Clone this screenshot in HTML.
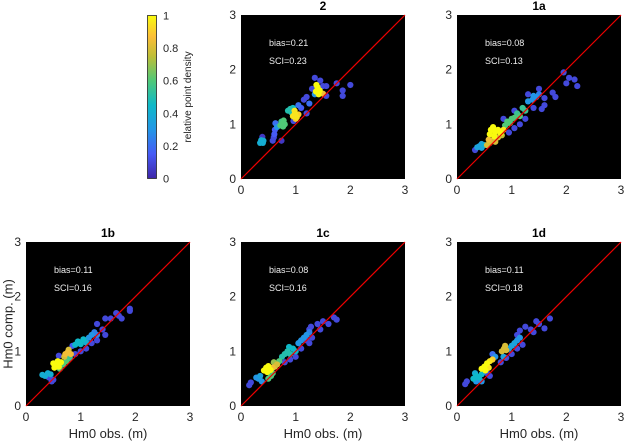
<!DOCTYPE html>
<html><head><meta charset="utf-8"><style>
body{margin:0;background:#fff;}
svg{display:block;font-family:"Liberation Sans",sans-serif;}
</style></head><body>
<svg id="fig" width="625" height="443" viewBox="0 0 625 443"></svg>
<script>
// ---- data ----
const panelTitles = ["2","1a","1b","1c","1d"];
const biasValues = ["0.21","0.08","0.11","0.08","0.11"];
const sciValues = ["0.23","0.13","0.16","0.16","0.18"];
const axisTicks = [0,1,2,3];
const colorbarTicks = [0,0.2,0.4,0.6,0.8,1];

// each point: [obs, comp, density]
const pts2 = [[0.35,0.66,0.4],[0.38,0.68,0.4],[0.41,0.7,0.4],[0.37,0.71,0.4],[0.4,0.66,0.4],[0.39,0.77,0.05],
[0.58,0.7,0.1],[0.6,0.76,0.1],[0.61,0.82,0.15],[0.62,0.9,0.15],[0.63,1.02,0.2],[0.74,0.7,0.05],[0.66,0.95,0.3],
[0.72,0.98,0.6],[0.76,1.02,0.6],[0.78,1.07,0.6],[0.74,1.05,0.55],[0.8,1.0,0.6],[0.77,0.96,0.6],
[0.86,1.25,0.5],[0.9,1.28,0.5],[0.92,1.22,0.5],[0.95,1.3,0.45],
[0.95,1.15,0.95],[0.99,1.2,0.95],[1.02,1.13,0.95],[1.05,1.18,0.9],[0.98,1.25,0.95],[1.0,1.1,0.9],
[0.96,1.06,0.1],[1.05,1.35,0.2],[1.1,1.3,0.15],[1.15,1.45,0.1],[1.2,1.2,0.1],[1.2,1.5,0.1],[1.25,1.38,0.2],
[1.3,1.65,0.1],[1.35,1.85,0.1],[1.45,1.8,0.1],[1.5,1.7,0.1],[1.56,1.7,0.1],[1.56,1.52,0.1],[1.75,1.75,0.1],
[1.86,1.62,0.1],[1.86,1.52,0.1],[2.0,1.72,0.1],[1.35,1.55,0.3],
[1.37,1.6,1],[1.4,1.68,1],[1.42,1.55,1],[1.38,1.72,1],[1.44,1.62,1],[1.5,1.56,0.85]];

const pts1a = [[0.33,0.53,0.1],[0.37,0.58,0.35],[0.41,0.6,0.35],[0.45,0.57,0.35],[0.45,0.64,0.35],[0.5,0.62,0.4],
[0.55,0.62,0.8],[0.6,0.66,0.8],[0.65,0.7,0.8],[0.7,0.68,0.8],[0.75,0.76,0.8],[0.82,0.8,0.75],[0.58,0.72,0.85],
[0.6,0.82,1],[0.62,0.9,1],[0.66,0.95,1],[0.7,0.86,1],[0.75,0.9,1],[0.8,0.84,1],[0.68,0.78,1],[0.85,0.9,0.95],
[0.88,0.98,0.6],[0.92,1.05,0.6],[0.97,1.02,0.6],[1.0,1.1,0.6],[1.05,1.12,0.6],[1.1,1.2,0.55],[1.15,1.15,0.6],[1.2,1.3,0.55],[1.25,1.25,0.55],
[1.3,1.42,0.3],[1.38,1.45,0.3],[1.45,1.5,0.3],[1.5,1.55,0.25],[1.4,1.52,0.3],
[0.95,0.85,0.1],[1.05,0.93,0.1],[1.15,1.0,0.1],[1.25,1.1,0.1],[1.4,1.3,0.1],[1.55,1.28,0.1],[1.6,1.35,0.1],
[1.3,1.55,0.1],[1.5,1.65,0.1],[1.6,1.48,0.1],[1.75,1.58,0.1],[1.8,1.5,0.1],[2.0,1.75,0.1],[2.05,1.85,0.1],
[2.15,1.82,0.1],[2.2,1.7,0.1],[1.95,1.95,0.1],[1.05,1.25,0.1],[0.85,1.1,0.1]];

const pts1b = [[0.3,0.57,0.4],[0.35,0.55,0.4],[0.4,0.6,0.4],[0.45,0.58,0.4],[0.42,0.52,0.1],[0.47,0.45,0.1],[0.5,0.48,0.1],
[0.52,0.7,1],[0.55,0.76,1],[0.58,0.82,1],[0.6,0.72,1],[0.64,0.8,1],[0.5,0.78,1],
[0.62,0.68,0.6],[0.68,0.76,0.6],[0.74,0.82,0.6],[0.8,0.88,0.55],
[0.72,0.95,0.85],[0.76,0.98,0.85],[0.82,0.95,0.85],[0.7,0.9,0.8],[0.78,1.03,0.8],
[0.6,0.92,0.1],[0.85,1.1,0.15],[0.9,1.12,0.45],[0.95,1.18,0.45],[1.0,1.13,0.45],[1.05,1.22,0.45],[1.1,1.16,0.4],
[1.15,1.25,0.3],[1.2,1.3,0.3],[1.25,1.35,0.25],[1.3,1.3,0.25],
[0.9,0.95,0.1],[1.0,1.0,0.1],[1.1,1.05,0.1],[1.2,1.15,0.1],[1.3,1.2,0.1],[1.4,1.4,0.1],[1.45,1.3,0.1],
[1.3,1.5,0.1],[1.45,1.6,0.1],[1.55,1.6,0.1],[1.65,1.7,0.1],[1.7,1.65,0.1],[1.75,1.6,0.1],[1.9,1.78,0.1],[1.9,1.74,0.1]];

const pts1c = [[0.15,0.38,0.1],[0.18,0.43,0.1],[0.28,0.52,0.3],[0.32,0.5,0.3],[0.35,0.55,0.35],[0.38,0.45,0.3],
[0.42,0.65,1],[0.46,0.7,1],[0.5,0.73,1],[0.54,0.66,1],[0.48,0.62,1],[0.58,0.7,0.85],[0.62,0.72,0.8],[0.66,0.76,0.8],
[0.5,0.5,0.6],[0.55,0.55,0.6],[0.58,0.6,0.6],[0.6,0.8,0.7],[0.7,0.82,0.6],
[0.75,0.9,0.5],[0.8,0.95,0.5],[0.85,1.0,0.5],[0.9,0.95,0.5],[0.95,1.05,0.45],[1.0,1.0,0.45],[0.88,1.08,0.45],
[1.05,1.15,0.3],[1.1,1.2,0.3],[1.15,1.25,0.3],[1.2,1.3,0.3],[1.25,1.35,0.25],
[0.8,0.8,0.1],[0.9,0.85,0.1],[1.0,0.9,0.1],[1.1,1.05,0.1],[1.2,1.2,0.1],[1.25,1.15,0.1],[1.3,1.25,0.1],
[1.25,1.4,0.1],[1.4,1.5,0.1],[1.45,1.4,0.1],[1.5,1.55,0.1],[1.6,1.5,0.1],[1.7,1.62,0.1],[1.75,1.58,0.1],[1.28,1.45,0.1]];

const pts1d = [[0.15,0.4,0.1],[0.18,0.45,0.1],[0.3,0.5,0.45],[0.35,0.55,0.45],[0.4,0.52,0.45],[0.45,0.58,0.45],[0.33,0.6,0.4],
[0.35,0.45,0.3],[0.45,0.45,0.3],
[0.45,0.68,1],[0.5,0.72,1],[0.55,0.78,1],[0.6,0.82,0.95],[0.52,0.65,1],[0.65,0.85,0.9],[0.58,0.7,0.95],
[0.7,0.9,0.3],[0.65,0.95,0.2],[0.55,0.6,0.1],[0.6,0.55,0.1],
[0.82,1.0,0.8],[0.86,1.05,0.8],[0.9,1.02,0.8],[0.88,1.1,0.8],
[0.95,1.05,0.35],[1.0,1.1,0.35],[1.05,1.15,0.35],[1.1,1.2,0.3],[1.15,1.25,0.3],[0.85,0.9,0.35],
[0.8,0.8,0.1],[0.9,0.88,0.1],[1.0,0.95,0.1],[1.1,1.05,0.1],[1.2,1.12,0.1],[1.1,1.3,0.1],
[1.15,1.38,0.1],[1.25,1.45,0.1],[1.35,1.4,0.1],[1.4,1.35,0.1],[1.5,1.5,0.1],[1.6,1.42,0.1],[1.7,1.6,0.1],[1.45,1.55,0.1]];

const panelData = [pts2, pts1a, pts1b, pts1c, pts1d];
const panelBoxes = [[241,15],[457,15],[26,242],[241,242],[457,242]];
const SIZE = 164, VMAX = 3;

const parula = [[0,[62,38,168]],[0.15,[70,90,245]],[0.3,[35,150,230]],[0.45,[14,185,200]],[0.6,[80,200,120]],[0.75,[190,190,55]],[0.87,[252,190,55]],[1,[249,251,14]]];
function cmap(v){
  for(let i=1;i<parula.length;i++){
    if(v<=parula[i][0]){const a=parula[i-1],b=parula[i];const t=(v-a[0])/(b[0]-a[0]);
      return `rgb(${a[1].map((c,k)=>Math.round(c+(b[1][k]-c)*t)).join(',')})`;}
  }
  return 'rgb(249,251,14)';
}
const NS='http://www.w3.org/2000/svg';
const svg=document.getElementById('fig');
function mk(tag,attrs,parent){const e=document.createElementNS(NS,tag);for(const k in attrs)e.setAttribute(k,attrs[k]);(parent||svg).appendChild(e);return e;}

panelData.forEach((pts,pi)=>{
  const [x0,y0]=panelBoxes[pi];
  const sx=v=>x0+v/VMAX*SIZE, sy=v=>y0+SIZE-v/VMAX*SIZE;
  const g=mk('g',{});
  
  
  const bg=mk('rect',{x:x0,y:y0,width:SIZE,height:SIZE,fill:'#000'},g);
  
  
  const t=mk('text',{x:x0+SIZE/2,y:y0-5,'text-anchor':'middle','font-size':12,'font-weight':'bold',fill:'#000'},g);
  t.textContent=panelTitles[pi];
  
  
  axisTicks.forEach(v=>{
    const tx=mk('text',{x:sx(v),y:y0+SIZE+15,'text-anchor':'middle','font-size':12,fill:'#262626'},g);
    tx.textContent=v;
    
    
    const ty=mk('text',{x:x0-5,y:sy(v)+4,'text-anchor':'end','font-size':12,fill:'#262626'},g);
    ty.textContent=v;
    
    
  });
  const sorted=pts.slice().sort((a,b)=>a[2]-b[2]);
  sorted.forEach(p=>{
    const c=mk('circle',{cx:sx(p[0]),cy:sy(p[1]),r:3.1,fill:cmap(p[2])},g);
    
    
  });
  const ln=mk('line',{x1:sx(0),y1:sy(0),x2:sx(3),y2:sy(3),stroke:'#e00',"stroke-width":1.2},g);
  
  
  const b=mk('text',{x:x0+28,y:y0+31,'font-size':9,fill:'#eee'},g);
  b.textContent='bias='+biasValues[pi];
  
  
  const s=mk('text',{x:x0+28,y:y0+49,'font-size':9,fill:'#eee'},g);
  s.textContent='SCI='+sciValues[pi];
  
  
});

const yl=mk('text',{x:0,y:0,transform:'translate(9,324) rotate(-90)','text-anchor':'middle','dominant-baseline':'middle','font-size':13,fill:'#262626'});
yl.textContent='Hm0 comp. (m)';


[26,241,457].forEach(x0=>{
  const xl=mk('text',{x:x0+SIZE/2,y:438,'text-anchor':'middle','font-size':13,fill:'#262626'});
  xl.textContent='Hm0 obs. (m)';
  
  
});

const defs=mk('defs',{});
const grad=mk('linearGradient',{id:'par',x1:0,y1:1,x2:0,y2:0},defs);
parula.forEach(s=>mk('stop',{offset:s[0],'stop-color':`rgb(${s[1].join(',')})`},grad));
const cb=mk('rect',{x:147.5,y:15.5,width:9,height:163,fill:'url(#par)',stroke:'#262626','stroke-width':0.8});


colorbarTicks.forEach(v=>{
  const tt=mk('text',{x:163,y:178.5-v*163+4,'font-size':11,fill:'#262626'});
  tt.textContent=v;
  
  
});
const cl=mk('text',{x:0,y:0,transform:'translate(191,97) rotate(-90)','text-anchor':'middle','font-size':10,fill:'#262626'});
cl.textContent='relative point density';


</script>
</body></html>
